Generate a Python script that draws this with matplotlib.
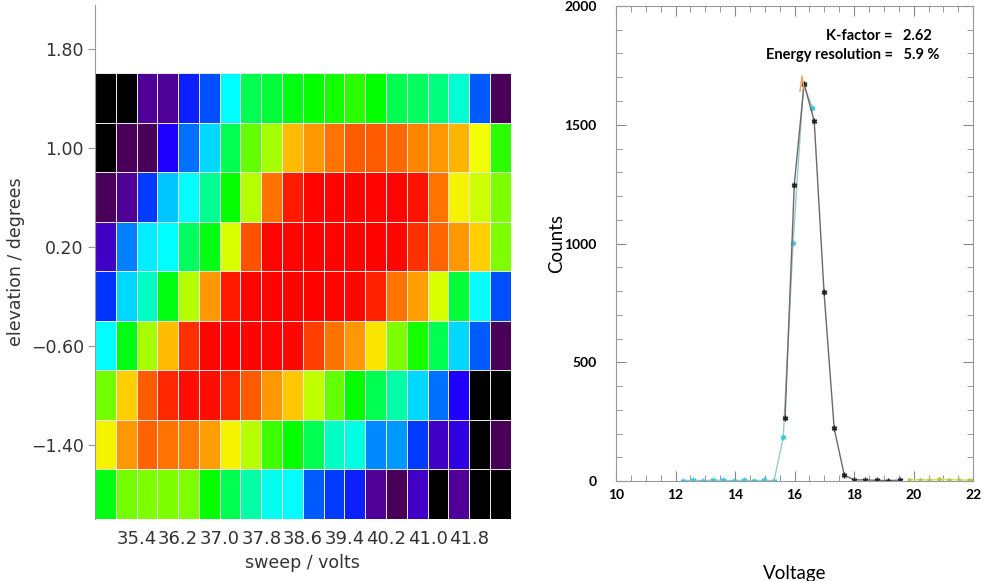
import numpy as np
import matplotlib
matplotlib.use("Agg")
import matplotlib.pyplot as plt
from matplotlib.colors import LinearSegmentedColormap
from matplotlib.ticker import MultipleLocator

# left panel: elevation x sweep map, rows listed from top (1.4) to bottom (-1.8)
sweep_edges = np.linspace(34.6, 42.6, 21)
elevation_edges = np.linspace(-2.0, 1.6, 10)
sweep_ticks = [35.4, 36.2, 37.0, 37.8, 38.6, 39.4, 40.2, 41.0, 41.8]
elevation_ticks = [-1.40, -0.60, 0.20, 1.00, 1.80]

intensity = [
    [0, 0, 0.10, 0.10, 0.19, 0.23, 0.35, 0.46, 0.47, 0.49, 0.50, 0.51, 0.52, 0.50, 0.46, 0.45, 0.43, 0.38, 0.24, 0.06],
    [0, 0.06, 0.06, 0.17, 0.26, 0.33, 0.46, 0.55, 0.60, 0.72, 0.76, 0.80, 0.83, 0.83, 0.81, 0.78, 0.76, 0.73, 0.66, 0.52],
    [0.06, 0.10, 0.21, 0.32, 0.35, 0.42, 0.50, 0.61, 0.80, 0.92, 0.97, 0.98, 0.98, 0.97, 0.97, 0.93, 0.80, 0.67, 0.63, 0.57],
    [0.13, 0.27, 0.34, 0.35, 0.45, 0.49, 0.64, 0.84, 0.97, 0.97, 0.98, 0.98, 0.98, 0.98, 0.96, 0.89, 0.82, 0.76, 0.70, 0.57],
    [0.20, 0.33, 0.39, 0.49, 0.61, 0.76, 0.92, 0.97, 0.98, 0.98, 0.98, 0.97, 0.96, 0.91, 0.80, 0.75, 0.64, 0.47, 0.35, 0.23],
    [0.35, 0.49, 0.60, 0.72, 0.89, 0.97, 0.98, 0.98, 0.97, 0.96, 0.87, 0.80, 0.76, 0.68, 0.57, 0.51, 0.46, 0.33, 0.24, 0.06],
    [0.56, 0.70, 0.83, 0.90, 0.94, 0.94, 0.90, 0.83, 0.76, 0.71, 0.62, 0.55, 0.50, 0.46, 0.41, 0.33, 0.26, 0.17, 0, 0],
    [0.67, 0.76, 0.82, 0.80, 0.79, 0.75, 0.67, 0.61, 0.53, 0.50, 0.46, 0.39, 0.37, 0.28, 0.29, 0.21, 0.13, 0.15, 0, 0.06],
    [0.49, 0.56, 0.57, 0.57, 0.57, 0.50, 0.46, 0.41, 0.36, 0.35, 0.24, 0.21, 0.19, 0.10, 0.06, 0.13, 0, 0.10, 0, 0],
]

# right panel: counts vs voltage
black_v = [15.68, 15.99, 16.32, 16.66, 16.99, 17.33, 17.67, 18.0, 18.38, 18.76, 19.15, 19.53]
black_counts = [264, 1248, 1672, 1515, 794, 222, 25, 5, 5, 3, 2, 4]
cyan_v = [12.25, 12.59, 12.93, 13.27, 13.61, 13.95, 14.29, 14.63, 14.97, 15.31, 15.62, 15.95, 16.3, 16.6]
cyan_counts = [2, 3, 2, 4, 3, 2, 3, 2, 3, 2, 184, 1002, 1672, 1571]
yellow_v = [19.85, 20.2, 20.52, 20.86, 21.2, 21.52, 21.86, 22.0]
yellow_counts = [5, 6, 5, 7, 6, 5, 4, 4]
peak_v = [16.18, 16.25, 16.32]
peak_counts = [1640, 1705, 1650]

rainbow = LinearSegmentedColormap.from_list("idl_rainbow", [
    (0.00, (0, 0, 0)), (0.02, (0, 0, 0)), (0.06, (0.29, 0, 0.36)),
    (0.10, (0.31, 0, 0.60)), (0.13, (0.25, 0, 0.78)), (0.17, (0.12, 0, 1)),
    (0.20, (0, 0.2, 1)), (0.25, (0, 0.4, 1)), (0.29, (0, 0.6, 1)),
    (0.33, (0, 0.85, 1)), (0.35, (0, 1, 1)), (0.40, (0, 1, 0.7)),
    (0.45, (0, 1, 0.38)), (0.50, (0, 1, 0)), (0.55, (0.4, 1, 0)),
    (0.60, (0.65, 1, 0)), (0.66, (0.95, 1, 0)), (0.70, (1, 0.82, 0)),
    (0.75, (1, 0.63, 0)), (0.80, (1, 0.45, 0)), (0.85, (1, 0.3, 0)),
    (0.90, (1, 0.16, 0)), (0.95, (1, 0.03, 0)), (1.00, (1, 0, 0)),
])

fig = plt.figure(figsize=(9.84, 5.81), dpi=100)

# heatmap
ax1 = fig.add_axes([0.0965, 0.1067, 0.4225, 0.8843])
grid = np.array(intensity)[::-1]
ax1.pcolormesh(sweep_edges, elevation_edges, grid, cmap=rainbow, vmin=0, vmax=1,
               edgecolors="#e6e6e6", linewidth=0.6)
ax1.set_xlim(sweep_edges[0], sweep_edges[-1])
ax1.set_ylim(-2.0, 2.15)
ax1.set_xticks(sweep_ticks)
ax1.set_xticklabels(["%.1f" % v for v in sweep_ticks])
ax1.set_yticks(elevation_ticks)
ax1.set_yticklabels(["%.2f" % v if v >= 0 else "\u2212%.2f" % -v for v in elevation_ticks])
for s in ["top", "right", "bottom"]:
    ax1.spines[s].set_visible(False)
ax1.spines["left"].set_color("#999999")
ax1.tick_params(axis="x", length=0, labelsize=13, colors="#333333", pad=8)
ax1.tick_params(axis="y", length=5, color="#999999", labelsize=12.5, labelcolor="#333333", pad=3)
ax1.set_xlabel("sweep / volts", fontsize=12.5, color="#333333", labelpad=4)
ax1.set_ylabel("elevation / degrees", fontsize=12.5, color="#333333", labelpad=4)

# counts plot
ax2 = fig.add_axes([0.626, 0.172, 0.363, 0.8177])
ax2.plot(cyan_v, cyan_counts, color="#9cc8d0", lw=1.0, marker=(6, 2, 0), ms=4,
         mec="#35c8e0", mfc="#35c8e0")
ax2.plot(black_v, black_counts, color="#706868", lw=1.0, marker=(6, 2, 0), ms=4,
         mec="#222222", mfc="#222222")
ax2.plot(yellow_v, yellow_counts, color="#d6df60", lw=1.0, marker=(6, 2, 0), ms=3,
         mec="#b8c840", mfc="#b8c840")
ax2.plot(peak_v, peak_counts, color="#f0a060", lw=1.0)
ax2.set_xlim(10, 22)
ax2.set_ylim(0, 2000)
ax2.xaxis.set_major_locator(MultipleLocator(2))
ax2.xaxis.set_minor_locator(MultipleLocator(0.5))
ax2.yaxis.set_major_locator(MultipleLocator(500))
ax2.yaxis.set_minor_locator(MultipleLocator(100))
for s in ax2.spines.values():
    s.set_color("#999999")
ax2.tick_params(which="both", direction="in", top=True, right=True, color="#888888")
ax2.tick_params(which="major", length=7)
ax2.tick_params(which="minor", length=4)
for lab in ax2.get_xticklabels() + ax2.get_yticklabels():
    lab.set_fontweight("bold")
    lab.set_fontsize(10)
    lab.set_family(["Lato", "DejaVu Sans"])
ax2.tick_params(axis="x", pad=6)
ax2.tick_params(axis="y", pad=14)
ax2.set_xlabel("Voltage", fontsize=13.5, family=["Lato", "DejaVu Sans"], labelpad=46)
ax2.set_ylabel("Counts", fontsize=13.5, family=["Lato", "DejaVu Sans"], labelpad=-1)
ax2.text(0.885, 0.928, "K-factor =   2.62", transform=ax2.transAxes, ha="right",
         fontsize=10.5, fontweight="bold", family=["Lato", "DejaVu Sans"])
ax2.text(0.905, 0.888, "Energy resolution =   5.9 %", transform=ax2.transAxes, ha="right",
         fontsize=10.5, fontweight="bold", family=["Lato", "DejaVu Sans"])

fig.savefig("out.png", dpi=100)
